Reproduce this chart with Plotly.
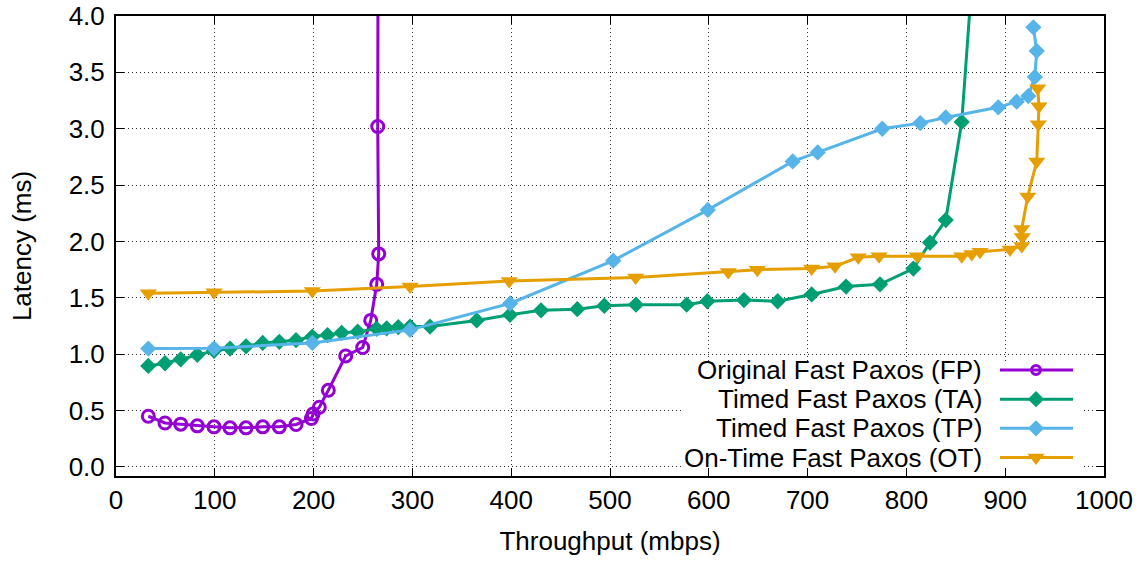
import plotly.graph_objects as go

# ---------------- data ----------------
fp_x = [32.7, 49.6, 65.5, 82.3, 99.2, 115.4, 131.6, 148.5, 165.3, 182.2, 197.8, 199.5,
        205.8, 214.9, 232.5, 249.7, 257.8, 263.9, 265.9, 264.9, 265.5]
fp_y = [0.45, 0.39, 0.38, 0.365, 0.356, 0.347, 0.347, 0.356, 0.356, 0.377, 0.43, 0.47,
        0.53, 0.68, 0.985, 1.06, 1.30, 1.62, 1.89, 3.02, 6.0]

ta_x = [32.7, 49.6, 65.5, 82.3, 99.2, 115.4, 131.6, 148.5, 165.3, 182.2, 198.7, 214.1,
        228.4, 244.6, 263.9, 274.0, 285.7, 297.6, 317.8, 365.1, 398.8, 430.2, 466.9,
        494.2, 526.3, 577.6, 598.5, 635.6, 669.7, 704.1, 738.9, 773.3, 807.0, 823.9,
        839.8, 856.0, 872.0]
ta_y = [0.896, 0.92, 0.955, 0.995, 1.03, 1.05, 1.07, 1.10, 1.11, 1.125, 1.157, 1.17,
        1.19, 1.20, 1.225, 1.23, 1.24, 1.245, 1.245, 1.30, 1.35, 1.39, 1.40,
        1.43, 1.44, 1.44, 1.47, 1.48, 1.47, 1.53, 1.60, 1.62, 1.76, 1.99,
        2.19, 3.06, 5.0]

tp_x = [32.7, 99.2, 198.7, 297.6, 398.8, 503.3, 599.0, 684.9, 710.2, 775.6, 814.0,
        839.8, 893.0, 911.6, 923.4, 930.0, 931.9, 928.5]
tp_y = [1.05, 1.053, 1.10, 1.216, 1.45, 1.83, 2.28, 2.71, 2.79, 3.00, 3.05,
        3.10, 3.19, 3.24, 3.29, 3.46, 3.69, 3.90]

ot_x = [32.7, 99.2, 198.7, 297.6, 398.0, 526.0, 619.7, 649.1, 704.1, 727.7, 751.3,
        772.3, 811.0, 856.0, 866.1, 874.5, 904.9, 916.7, 917.3, 916.7, 922.8, 931.9,
        933.5, 934.2, 932.9]
ot_y = [1.54, 1.55, 1.56, 1.60, 1.65, 1.68, 1.73, 1.75, 1.76, 1.78, 1.86,
        1.87, 1.87, 1.87, 1.89, 1.91, 1.93, 1.96, 2.04, 2.11, 2.40, 2.71,
        3.04, 3.20, 3.36]

names = ["Original Fast Paxos (FP)", "Timed Fast Paxos (TA)",
         "Timed Fast Paxos (TP)", "On-Time Fast Paxos (OT)"]
x_ticks = list(range(0, 1001, 100))
y_ticks = [0.0, 0.5, 1.0, 1.5, 2.0, 2.5, 3.0, 3.5, 4.0]

# ---------------- styles ----------------
FONT = "Liberation Sans, Arial, Helvetica, sans-serif"
colors = ["#9400D3", "#009E73", "#56B4E9", "#E69F00"]
symbols = ["circle-open", "diamond", "diamond", "triangle-down"]
msizes = [12, 12.5, 12.5, 15]
mline = [3, 0, 0, 0]
LW = 3

series = [(fp_x, fp_y), (ta_x, ta_y), (tp_x, tp_y), (ot_x, ot_y)]

L, R, T, B = 116, 1104, 16, 475.7   # plot area in page pixels
W, H = 1142, 561

fig = go.Figure()
for (xs, ys), c, s, ms, ml, n in zip(series, colors, symbols, msizes, mline, names):
    fig.add_trace(go.Scatter(
        x=xs, y=ys, mode="lines+markers", name=n, showlegend=False,
        line=dict(color=c, width=LW),
        marker=dict(symbol=s, size=ms, color=c, line=dict(color=c, width=ml)),
        xaxis="x", yaxis="y"))

# ---------------- custom legend (text left of sample, gnuplot style) ----------------
LEG_FS = 26
leg_center, leg_step = 413.5, 29.2
leg_rows = [leg_center + (i - 1.5) * leg_step for i in range(4)]
leg_text_right = 983
leg_line = (1000, 1073)
leg_mark = 1036
for i, (c, s, ms, ml, n) in enumerate(zip(colors, symbols, msizes, mline, names)):
    ry = leg_rows[i]
    fig.add_trace(go.Scatter(
        x=[leg_line[0], leg_line[1]], y=[ry, ry], mode="lines", showlegend=False,
        line=dict(color=c, width=LW), xaxis="x2", yaxis="y2", hoverinfo="skip"))
    fig.add_trace(go.Scatter(
        x=[leg_mark], y=[ry], mode="markers", showlegend=False,
        marker=dict(symbol=s, size=ms - (3 if i == 0 else 0), color=c,
                    line=dict(color=c, width=ml)),
        xaxis="x2", yaxis="y2", hoverinfo="skip"))
    fig.add_annotation(x=leg_text_right, y=ry, xref="x2", yref="y2", text=n,
                       showarrow=False, xanchor="right", yanchor="middle", borderpad=0,
                       font=dict(family=FONT, size=LEG_FS, color="black"))

axis_common = dict(
    showline=True, linecolor="black", linewidth=2, mirror="ticks",
    ticks="inside", ticklen=8, tickwidth=1, tickcolor="black",
    showgrid=True, gridcolor="#333333", gridwidth=1, griddash="1px,3px",
    zeroline=False, tickfont=dict(family=FONT, size=26, color="black"),
    ticklabeloverflow="allow", automargin=False,
)

fig.update_layout(
    width=W, height=H,
    margin=dict(l=L, r=W - R, t=T, b=H - B),
    paper_bgcolor="white", plot_bgcolor="white",
    xaxis=dict(range=[0, 1000], tickvals=x_ticks, ticktext=[str(v) for v in x_ticks],
               title=dict(text="Throughput (mbps)", font=dict(family=FONT, size=26, color="black"),
                          standoff=18),
               **axis_common),
    yaxis=dict(range=[-0.08, 4.0], tickvals=y_ticks, ticktext=[f"{v:.1f}" for v in y_ticks],
               ticklabelstandoff=4,
               title=dict(text="Latency (ms)", font=dict(family=FONT, size=26, color="black"),
                          standoff=30),
               **axis_common),
    xaxis2=dict(range=[L, R], overlaying="x", visible=False, fixedrange=True),
    yaxis2=dict(range=[B, T], overlaying="y", visible=False, fixedrange=True),
    showlegend=False,
)

# opaque legend background (hides grid behind the key) - in data units of main axes
fig.add_shape(type="rect", xref="x", yref="y", x0=574, x1=977, y0=-0.075, y1=0.93,
              fillcolor="white", line=dict(width=0), layer="between")

fig.write_html("out.html", config={"displayModeBar": False},
               post_script="document.body.style.margin='0';")
